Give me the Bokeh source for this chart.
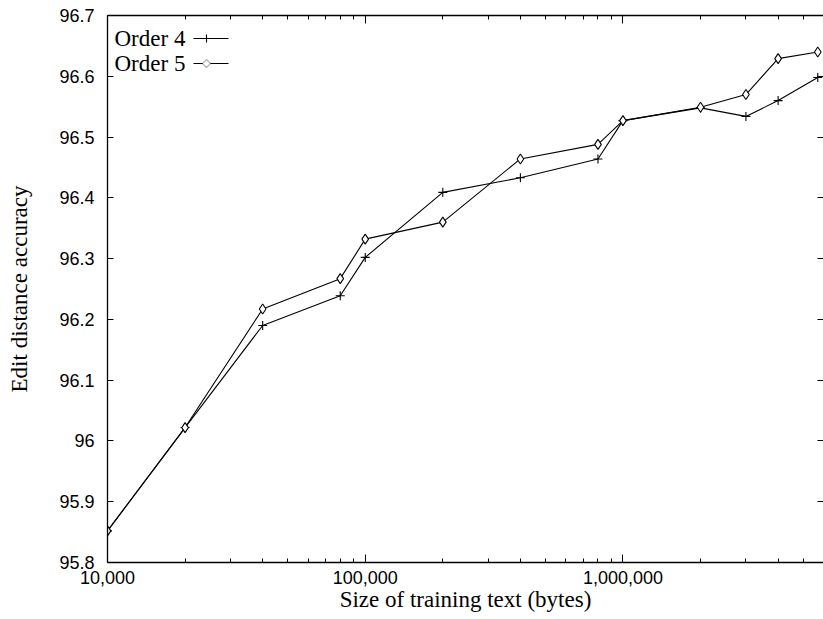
from bokeh.plotting import figure
from bokeh.models import (FixedTicker, NumeralTickFormatter, CustomJSTickFormatter,
                          LogAxis, LinearAxis, Label, Arrow, PolyAnnotation, Range1d)
from bokeh.embed import file_html
from bokeh.resources import INLINE

# ---- data ----
training_size = [10000, 20000, 40000, 80000, 100000, 200000, 400000, 800000,
                 1000000, 2000000, 3000000, 4000000, 5700000]
order4 = [95.852, 96.022, 96.190, 96.239, 96.302, 96.409, 96.433, 96.464,
          96.527, 96.548, 96.534, 96.560, 96.598]
order5 = [95.852, 96.022, 96.217, 96.267, 96.332, 96.360, 96.464, 96.488,
          96.527, 96.549, 96.570, 96.629, 96.640]
series_names = ["Order 4", "Order 5"]

x_major = [10000, 100000, 1000000]
x_minor = [20000, 30000, 40000, 50000, 60000, 70000, 80000, 90000,
           200000, 300000, 400000, 500000, 600000, 700000, 800000, 900000,
           2000000, 3000000, 4000000, 5000000]
y_ticks = [95.8, 95.9, 96.0, 96.1, 96.2, 96.3, 96.4, 96.5, 96.6, 96.7]

SANS = "Liberation Sans"
SERIF = "Liberation Serif"

p = figure(width=823, height=619, x_axis_type="log",
           x_range=Range1d(10000, 6000000), y_range=Range1d(95.8, 96.7),
           output_backend="svg", toolbar_location=None,
           min_border_left=107, min_border_right=0, min_border_top=15, min_border_bottom=57)
p.outline_line_color = None
p.grid.visible = False
p.background_fill_color = "white"
p.border_fill_color = "white"

# bottom axis
xa = p.xaxis[0]
xa.ticker = FixedTicker(ticks=x_major, minor_ticks=x_minor)
xa.formatter = NumeralTickFormatter(format="0,0")
xa.axis_label = "Size of training text (bytes)"
xa.axis_label_text_font = SERIF
xa.axis_label_text_font_style = "normal"
xa.axis_label_text_font_size = "23px"
xa.axis_label_text_color = "black"
xa.axis_label_standoff = 0
xa.major_label_text_font = SANS
xa.major_label_text_font_size = "18px"
xa.major_label_text_color = "black"
xa.major_label_standoff = 8
xa.major_tick_in = 8
xa.major_tick_out = 0
xa.minor_tick_in = 4
xa.minor_tick_out = 0
xa.axis_line_width = 1.3
xa.axis_line_color = "black"
xa.major_tick_line_color = "black"
xa.minor_tick_line_color = "black"

# left axis
ya = p.yaxis[0]
ya.ticker = FixedTicker(ticks=y_ticks)
ya.formatter = CustomJSTickFormatter(code="return tick.toFixed(1).replace(/\\.0$/, '');")
ya.axis_label = "Edit distance accuracy"
ya.axis_label_text_font = SERIF
ya.axis_label_text_font_style = "normal"
ya.axis_label_text_font_size = "23px"
ya.axis_label_text_color = "black"
ya.axis_label_standoff = 24
ya.major_label_text_font = SANS
ya.major_label_text_font_size = "18px"
ya.major_label_text_color = "black"
ya.major_label_standoff = 13
ya.major_tick_in = 6
ya.major_tick_out = 0
ya.minor_tick_line_color = None
ya.axis_line_width = 1.3
ya.axis_line_color = "black"
ya.major_tick_line_color = "black"

# top mirror axis (ticks only)
top = LogAxis(ticker=FixedTicker(ticks=x_major, minor_ticks=x_minor),
              major_label_text_font_size="1px", major_label_text_color=None,
              major_label_standoff=0,
              major_tick_in=8, major_tick_out=0, minor_tick_in=4, minor_tick_out=0,
              axis_line_width=1.3, axis_line_color="black",
              major_tick_line_color="black", minor_tick_line_color="black")
p.add_layout(top, "above")

# right mirror ticks
right = LinearAxis(ticker=FixedTicker(ticks=y_ticks),
                   major_label_text_font_size="1px", major_label_text_color=None,
                   major_label_standoff=0,
                   major_tick_in=6, major_tick_out=0, minor_tick_line_color=None,
                   major_tick_line_color="black", axis_line_color=None)
p.add_layout(right, "right")

# series
p.line(training_size, order4, line_color="black", line_width=1.1)
p.scatter(training_size, order4, marker="cross", size=9, line_color="black", line_width=1.1)
p.line(training_size, order5, line_color="black", line_width=1.1)
p.scatter(training_size, order5, marker="diamond", size=10, line_color="black",
          fill_color="white", line_width=1.1)

# gnuplot-style key (text left, sample right), frame-relative screen units
key_y = [524, 499]
for name, ky in zip(series_names, key_y):
    p.add_layout(Label(x=7, y=ky, x_units="screen", y_units="screen", text=name,
                       text_font=SERIF, text_font_size="23px", text_baseline="middle",
                       text_align="left", text_color="black"))
    p.add_layout(Arrow(x_start=86, y_start=ky, x_end=121, y_end=ky,
                       start_units="screen", end_units="screen", start=None, end=None,
                       line_color="black", line_width=1.1))
# plus sample marker
p.add_layout(Arrow(x_start=99, y_start=key_y[0] - 4, x_end=99, y_end=key_y[0] + 4,
                   start_units="screen", end_units="screen", start=None, end=None,
                   line_color="black", line_width=1.1))
# diamond sample marker
p.add_layout(PolyAnnotation(xs=[95, 99, 103, 99], ys=[key_y[1], key_y[1] + 4, key_y[1], key_y[1] - 4],
                            xs_units="screen", ys_units="screen",
                            fill_color="white", fill_alpha=1.0, line_color="black", line_width=1.1))

open("out.html", "w").write(file_html(p, INLINE))
